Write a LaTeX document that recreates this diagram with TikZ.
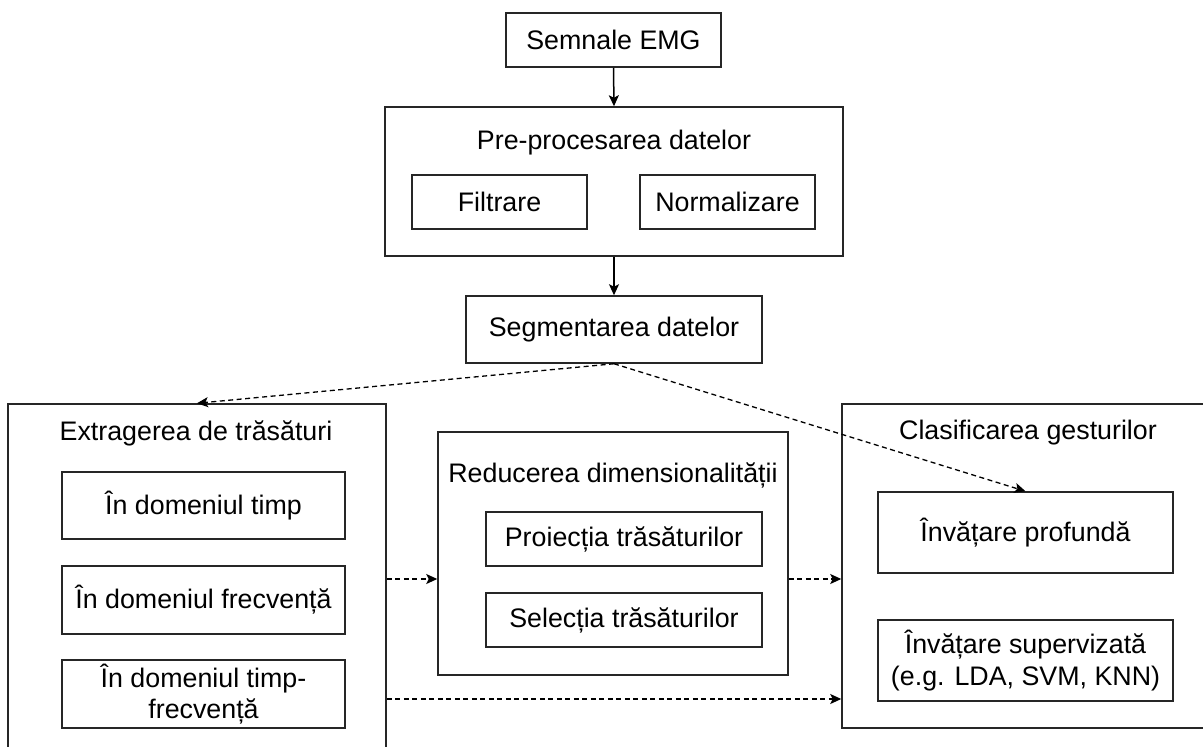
\documentclass[tikz,border=0pt]{standalone}
\usepackage{fontspec}
\setmainfont{Liberation Sans}
\usetikzlibrary{arrows.meta}
\tikzset{
  box/.style={draw=black!85, line width=1.5pt, rectangle, inner sep=0pt, align=center, font=\fontsize{26.8}{31.5}\selectfont},
  ttl/.style={inner sep=0pt, font=\fontsize{26.8}{31.5}\selectfont},
  solidarrow/.style={line width=1.5pt, -{Stealth[length=11pt,width=10pt,inset=2.5pt]}},
  dasharrow/.style={line width=1.3pt, dash pattern=on 5pt off 3.5pt, -{Stealth[length=11pt,width=10pt,inset=2.5pt]}}
}
\begin{document}
\begin{tikzpicture}[x=1pt,y=-1pt]
\useasboundingbox (0,0) rectangle (1203,747);
% top chain
\node[box, minimum width=215pt, minimum height=54pt] (sem) at (613.5,40) {Semnale EMG};
\node[box, minimum width=458pt, minimum height=149pt] (pre) at (614,181.5) {};
\node[ttl] (pret) at (614,143) {Pre-procesarea datelor};
\node[box, minimum width=175pt, minimum height=54pt] (filt) at (499.5,202) {Filtrare};
\node[box, minimum width=175pt, minimum height=54pt] (norm) at (727.5,202) {Normalizare};
\node[box, minimum width=296pt, minimum height=67pt] (seg) at (614,329.5) {Segmentarea datelor};
% feature extraction
\node[box, minimum width=378pt, minimum height=356pt] (ext) at (197,582) {};
\node[ttl] (extt) at (196,433) {Extragerea de trăsături};
\node[box, minimum width=283pt, minimum height=67pt] (t1) at (203.5,505.5) {În domeniul timp};
\node[box, minimum width=283pt, minimum height=68pt] (t2) at (203.5,600) {În domeniul frecvență};
\node[box, minimum width=283pt, minimum height=68pt] (t3) at (203.5,694) {În domeniul timp-\\frecvență};
% dimensionality reduction
\node[box, minimum width=350pt, minimum height=243pt] (red) at (613,553.5) {};
\node[ttl] (redt) at (613,475) {Reducerea dimensionalității};
\node[box, minimum width=276pt, minimum height=54pt] (pro) at (624,539) {Proiecția trăsăturilor};
\node[box, minimum width=276pt, minimum height=54pt] (sel) at (624,620) {Selecția trăsăturilor};
% classification
\node[box, minimum width=362pt, minimum height=324pt] (cls) at (1023,566) {};
\node[ttl] (clst) at (1028,433) {Clasificarea gesturilor};
\node[box, minimum width=295pt, minimum height=81pt] (dp) at (1025.5,532.5) {Învățare profundă};
\node[box, minimum width=295pt, minimum height=81pt] (sup) at (1025.5,660.5) {Învățare supervizată\\(e.g. LDA, SVM, KNN)};
% connectors
\coordinate (r1) at (0,579);
\coordinate (r2) at (0,699);
\draw[solidarrow] (sem.south) -- (pre.north);
\draw[solidarrow] (pre.south) -- (seg.north);
\draw[dasharrow] (seg.south) -- (ext.north);
\draw[dasharrow] (seg.south) -- (dp.north);
\draw[dasharrow] (ext.east |- r1) -- (red.west |- r1);
\draw[dasharrow] (red.east |- r1) -- (cls.west |- r1);
\draw[dasharrow] (ext.east |- r2) -- (cls.west |- r2);
\end{tikzpicture}
\end{document}
